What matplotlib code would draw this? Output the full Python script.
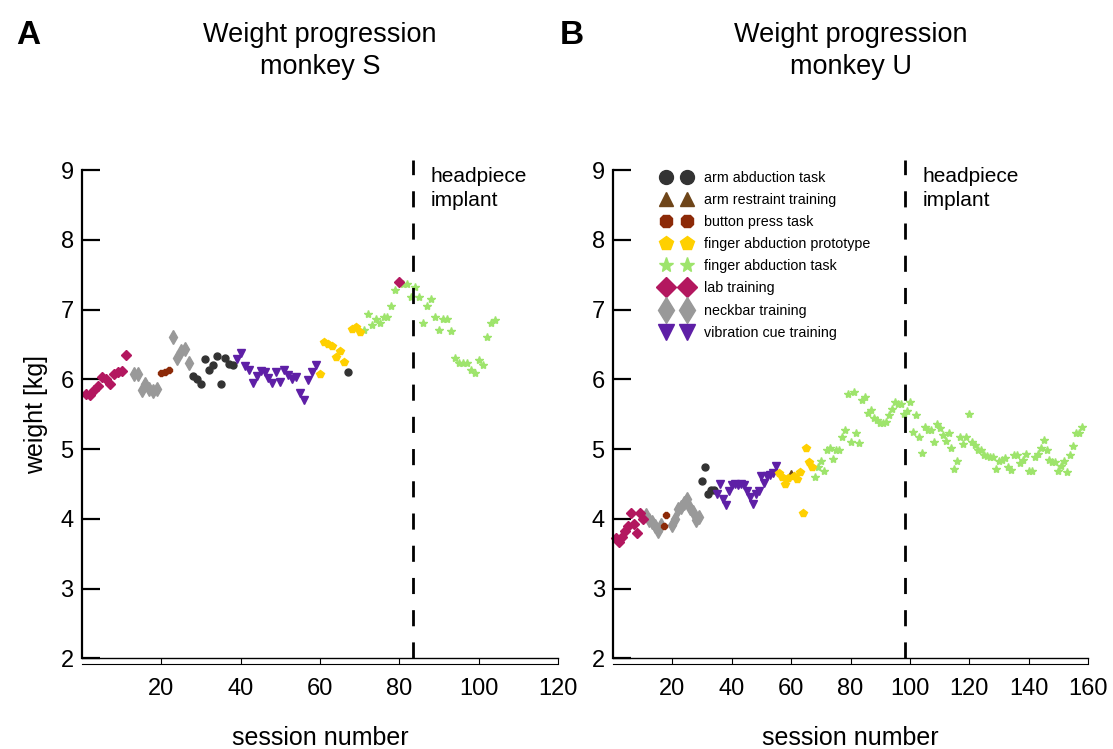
import matplotlib
matplotlib.use("Agg")
import matplotlib.pyplot as plt
from matplotlib.lines import Line2D
from matplotlib.transforms import ScaledTranslation

plt.rcParams['font.family'] = ['Liberation Sans', 'DejaVu Sans']

# ---- monkey S ----
labS_x = [1, 2, 3, 4, 5, 6, 7, 8, 9, 10, 11, 80]
labS_y = [5.79, 5.77, 5.85, 5.9, 6.03, 6.0, 5.93, 6.07, 6.1, 6.12, 6.35, 7.4]
neckS_x = [13, 14, 15, 16, 17, 18, 19, 23, 24, 25, 26, 27]
neckS_y = [6.07, 6.07, 5.85, 5.93, 5.86, 5.83, 5.86, 6.6, 6.3, 6.4, 6.44, 6.24]
buttonS_x = [20, 21, 22]
buttonS_y = [6.09, 6.1, 6.14]
armS_x = [28, 29, 30, 31, 32, 33, 34, 35, 36, 37, 38, 67]
armS_y = [6.05, 6.0, 5.94, 6.29, 6.14, 6.2, 6.34, 5.94, 6.31, 6.22, 6.21, 6.11]
vibS_x = list(range(39, 60))
vibS_y = [6.29, 6.38, 6.19, 6.14, 5.95, 6.05, 6.12, 6.1, 6.02, 5.95, 6.1,
          5.96, 6.14, 6.06, 6.0, 6.04, 5.81, 5.71, 5.99, 6.1, 6.2]
protoS_x = [60, 61, 62, 63, 64, 65, 66, 68, 69, 70]
protoS_y = [6.08, 6.54, 6.51, 6.48, 6.32, 6.4, 6.25, 6.72, 6.75, 6.68]
fingerS_x = list(range(71, 80)) + list(range(81, 105))
fingerS_y = [6.7, 6.93, 6.78, 6.86, 6.81, 6.9, 6.9, 7.05, 7.28,
             7.36, 7.36, 7.18, 7.33, 7.18, 6.81, 7.05, 7.15, 6.9, 6.7, 6.86, 6.86,
             6.69, 6.3, 6.23, 6.23, 6.23, 6.13, 6.09, 6.28, 6.21, 6.61, 6.81, 6.85]

# ---- monkey U ----
labU_x = [1, 2, 3, 4, 5, 6, 7, 8, 9, 10]
labU_y = [3.73, 3.67, 3.74, 3.83, 3.9, 4.08, 3.92, 3.8, 4.08, 4.0]
neckU_x = [11, 12, 13, 14, 15, 16, 20, 21, 22, 23, 24, 25, 26, 27, 28, 29]
neckU_y = [4.05, 3.99, 3.95, 3.9, 3.83, 3.91, 3.91, 4.0, 4.14, 4.17, 4.22, 4.29,
           4.15, 4.1, 3.99, 4.02]
buttonU_x = [17, 18]
buttonU_y = [3.9, 4.05]
armU_x = [30, 31, 32, 33, 34]
armU_y = [4.54, 4.74, 4.35, 4.42, 4.42]
vibU_x = list(range(35, 56))
vibU_y = [4.36, 4.5, 4.29, 4.2, 4.4, 4.49, 4.5, 4.49, 4.5, 4.49, 4.4,
          4.31, 4.21, 4.36, 4.4, 4.62, 4.52, 4.62, 4.63, 4.66, 4.76]
protoU_x = [56, 57, 58, 59, 61, 62, 63, 64, 65, 66, 67]
protoU_y = [4.66, 4.6, 4.5, 4.58, 4.61, 4.57, 4.67, 4.09, 5.01, 4.81, 4.74]
restraintU_x = [60]
restraintU_y = [4.66]
fingerU_x = list(range(68, 159))
fingerU_y = [4.6, 4.75, 4.83, 4.69, 4.98, 5.01, 4.86, 4.99, 4.99, 5.18,
             5.28, 5.79, 5.1, 5.82, 5.23, 5.09, 5.71, 5.74, 5.51, 5.56,
             5.45, 5.42, 5.38, 5.37, 5.39, 5.49, 5.58, 5.68, 5.64, 5.64,
             5.5, 5.55, 5.68, 5.25, 5.49, 5.18, 4.94, 5.32, 5.28,
             5.28, 5.1, 5.36, 5.3, 5.2, 5.12, 5.23, 5.02, 4.71, 4.83,
             5.17, 5.07, 5.17, 5.5, 5.1, 5.06, 4.98, 4.99, 4.91, 4.9,
             4.88, 4.88, 4.72, 4.83, 4.85, 4.87, 4.75, 4.7, 4.91, 4.91,
             4.8, 4.85, 4.93, 4.69, 4.69, 4.88, 4.93, 5.01, 5.13, 4.98,
             4.85, 4.82, 4.82, 4.69, 4.76, 4.83, 4.67, 4.91, 5.04, 5.23,
             5.23, 5.32]

implantS = 83.5
implantU = 98.5

# legend order: label -> marker, colour, plot size, legend size
styles = {
    'arm abduction task': ('o', '#333333', 5, 10),
    'arm restraint training': ('^', '#6e4519', 5, 10),
    'button press task': ('8', '#8c2a08', 5, 10),
    'finger abduction prototype': ('p', '#ffd000', 5.5, 10.5),
    'finger abduction task': ('*', '#9ee46c', 6, 11),
    'lab training': ('D', '#b3175f', 5, 10.5),
    'neckbar training': ('d', '#999999', 7, 13),
    'vibration cue training': ('v', '#5e1fa6', 6, 11),
}

fig = plt.figure(figsize=(11.13, 7.49), dpi=100)
axA = fig.add_axes([0.0737, 0.121, 0.4277, 0.652])
axB = fig.add_axes([0.5508, 0.121, 0.4268, 0.652])

dataS = {
    'arm abduction task': (armS_x, armS_y),
    'button press task': (buttonS_x, buttonS_y),
    'finger abduction prototype': (protoS_x, protoS_y),
    'finger abduction task': (fingerS_x, fingerS_y),
    'lab training': (labS_x, labS_y),
    'neckbar training': (neckS_x, neckS_y),
    'vibration cue training': (vibS_x, vibS_y),
}
dataU = {
    'arm abduction task': (armU_x, armU_y),
    'arm restraint training': (restraintU_x, restraintU_y),
    'button press task': (buttonU_x, buttonU_y),
    'finger abduction prototype': (protoU_x, protoU_y),
    'finger abduction task': (fingerU_x, fingerU_y),
    'lab training': (labU_x, labU_y),
    'neckbar training': (neckU_x, neckU_y),
    'vibration cue training': (vibU_x, vibU_y),
}

order = ['finger abduction task', 'neckbar training', 'button press task',
         'arm abduction task', 'vibration cue training', 'arm restraint training',
         'finger abduction prototype', 'lab training']

for ax, data, xmax, implant, title in [(axA, dataS, 120, implantS, 'Weight progression\nmonkey S'),
                                       (axB, dataU, 160, implantU, 'Weight progression\nmonkey U')]:
    for name in order:
        if name not in data:
            continue
        m, c, s, _ = styles[name]
        x, y = data[name]
        ax.plot(x, y, linestyle='none', marker=m, color=c, ms=s, mec=c, clip_on=False)
    ax.axvline(implant, ymin=0, ymax=1.02, color='black', lw=2,
               linestyle=(0, (5.8, 5.8)), clip_on=False)
    ax.text(implant + xmax * 0.036, 9.04, 'headpiece\nimplant', fontsize=15,
            ha='left', va='top', linespacing=1.3)
    ax.set_xlim(0, xmax)
    ax.set_ylim(2, 9)
    ax.set_xticks(range(20, xmax + 1, 20))
    ax.set_yticks(range(2, 10))
    ax.spines['top'].set_visible(False)
    ax.spines['right'].set_visible(False)
    ax.spines['left'].set_linewidth(1.6)
    ax.spines['bottom'].set_linewidth(1.0)
    ax.tick_params(axis='y', direction='in', length=13, width=1.6, labelsize=17, pad=6)
    ax.tick_params(axis='x', direction='out', length=4, width=0.8, labelsize=17, pad=10)
    # thin second line under the x ticks
    off = ScaledTranslation(0, -4 / 72, fig.dpi_scale_trans)
    ax.add_line(Line2D([0, 1], [0, 0], transform=ax.transAxes + off,
                       color='black', lw=0.8, clip_on=False))
    ax.set_xlabel('session number', fontsize=18, labelpad=19)
    ax.set_title(title, fontsize=19.5, pad=69, linespacing=1.3)

axA.set_ylabel('weight [kg]', fontsize=18, labelpad=9)

handles = []
for name, (m, c, s, ls) in styles.items():
    handles.append(Line2D([], [], linestyle='none', marker=m, color=c, ms=ls, mec=c, label=name))
axB.legend(handles=handles, loc='upper left', bbox_to_anchor=(0.075, 1.025),
           frameon=False, numpoints=2, fontsize=10.3,
           labelspacing=0.57, handlelength=2.1, handletextpad=0.85)

fig.text(0.025, 0.953, 'A', fontsize=24, fontweight='bold', ha='center', va='center')
fig.text(0.514, 0.953, 'B', fontsize=24, fontweight='bold', ha='center', va='center')

fig.savefig('out.png', dpi=100)
